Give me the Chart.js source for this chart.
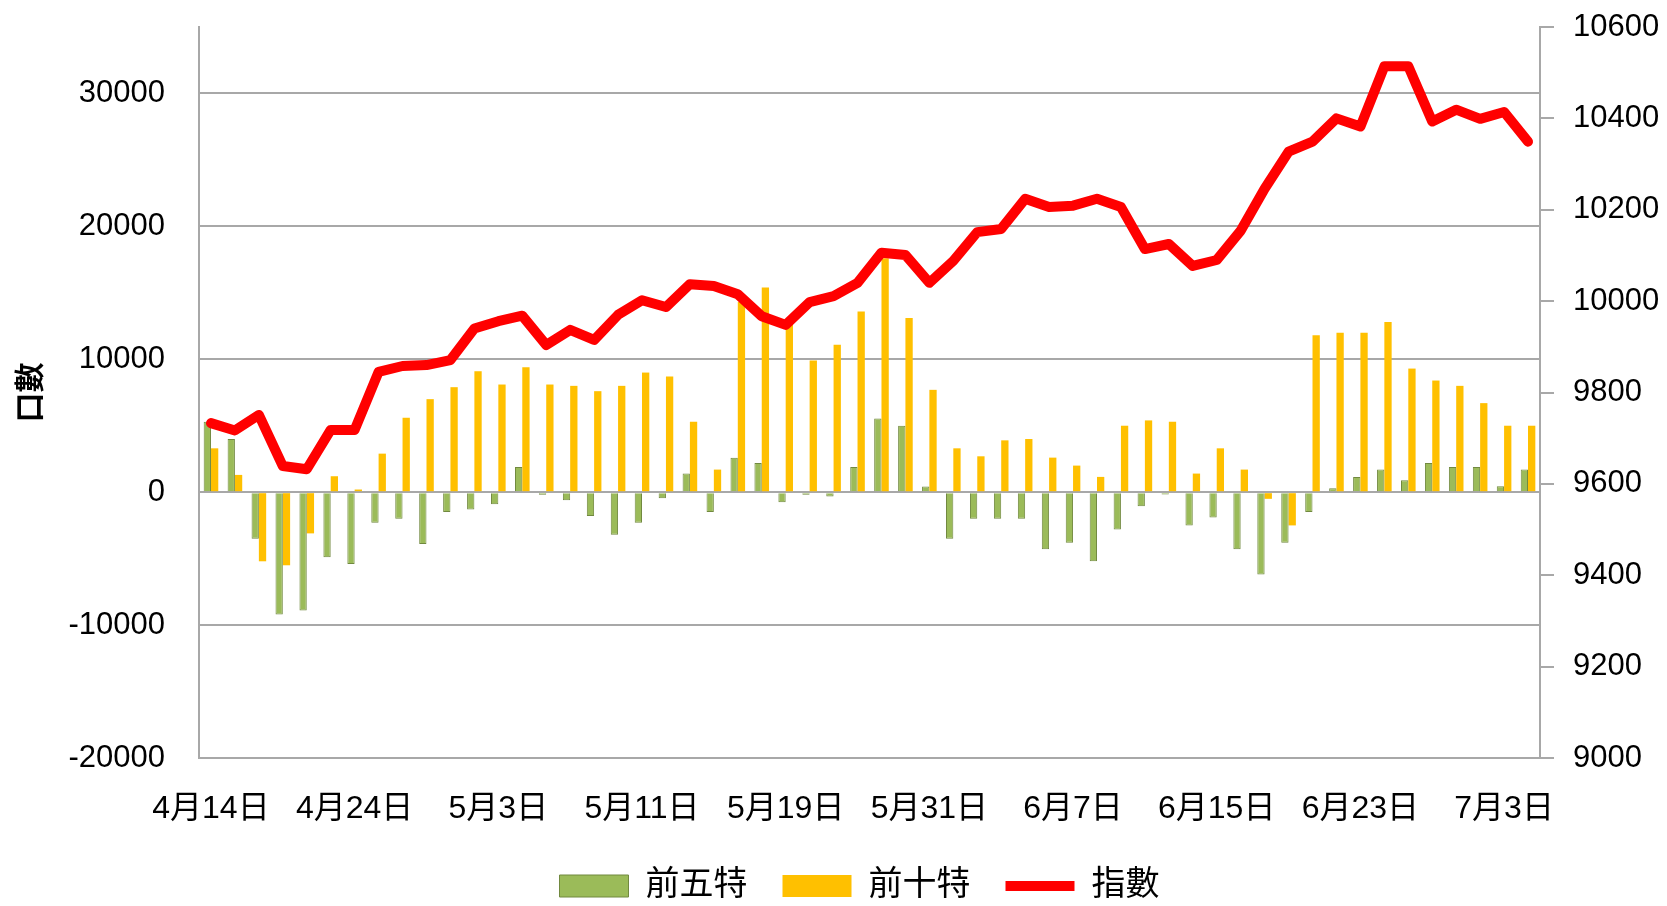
<!DOCTYPE html>
<html>
<head>
<meta charset="utf-8">
<script src="https://cdn.jsdelivr.net/npm/chart.js@4.4.1/dist/chart.umd.min.js"></script>
<style>
  html, body { margin: 0; padding: 0; background: #fff; }
</style>
</head>
<body>
<canvas id="myChart" width="1667" height="906"></canvas>
<script>
var dates = ['4月14日','4月17日','4月18日','4月19日','4月20日','4月21日','4月24日','4月25日','4月26日','4月27日',
  '4月28日','5月2日','5月3日','5月4日','5月5日','5月8日','5月9日','5月10日','5月11日','5月12日',
  '5月15日','5月16日','5月17日','5月18日','5月19日','5月22日','5月23日','5月24日','5月25日','5月26日',
  '5月31日','6月1日','6月2日','6月3日','6月5日','6月6日','6月7日','6月8日','6月9日','6月12日',
  '6月13日','6月14日','6月15日','6月16日','6月19日','6月20日','6月21日','6月22日','6月23日','6月26日',
  '6月27日','6月28日','6月29日','6月30日','7月3日','7月4日'];

// 前五特 (contracts)
var top5 = [5300, 4000, -3500, -9200, -8900, -4900, -5400, -2300, -2000, -3900,
  -1500, -1300, -900, 1900, -200, -600, -1800, -3200, -2300, -450,
  1400, -1500, 2600, 2200, -750, -200, -330, 1900, 5550, 5000,
  430, -3500, -2000, -2000, -2000, -4300, -3800, -5200, -2800, -1050,
  -180, -2500, -1900, -4300, -6200, -3800, -1500, 300, 1150, 1700,
  900, 2200, 1900, 1900, 450, 1700];

// 前十特 (contracts)
var top10 = [3300, 1300, -5200, -5500, -3100, 1200, 200, 2900, 5600, 7000,
  7900, 9100, 8100, 9400, 8100, 8000, 7600, 8000, 9000, 8700,
  5300, 1700, 14300, 15400, 13000, 9900, 11100, 13600, 17600, 13100,
  7700, 3300, 2700, 3900, 4000, 2600, 2000, 1150, 5000, 5400,
  5300, 1400, 3300, 1700, -500, -2500, 11800, 12000, 12000, 12800,
  9300, 8400, 8000, 6700, 5000, 5000];

// 指數 (right axis)
var indexLine = [9733, 9717, 9751, 9639, 9632, 9718, 9718, 9845, 9858, 9860,
  9871, 9940, 9956, 9968, 9904, 9937, 9915, 9970, 10002, 9987,
  10037, 10033, 10015, 9967, 9948, 9998, 10011, 10040, 10106, 10101,
  10040, 10088, 10151, 10158, 10224, 10206, 10209, 10224, 10206, 10114,
  10125, 10077, 10090, 10154, 10246, 10327, 10349, 10400, 10382, 10514,
  10514, 10393, 10419, 10399, 10414, 10349];

var leftTicks = [-20000, -10000, 0, 10000, 20000, 30000];
var rightTicks = [9000, 9200, 9400, 9600, 9800, 10000, 10200, 10400, 10600];
var labelEvery = 6;
var fontFam = "'Liberation Sans', 'Noto Sans CJK TC', sans-serif";
var gridGray = '#a8a8a8';

// nudge the bottom legend a little to the right, like the original
var legendShift = {
  id: 'legendShift',
  afterLayout: function(chart) {
    chart.legend.left += 26;
    chart.legend.right += 26;
  }
};

// fixed axis width, and don't let the tick padding push the plot down
function fixY(width) {
  return function(s) {
    s.width = width;
    s.paddingTop = 20;
    s.paddingBottom = 20;
  };
}

var ctx = document.getElementById('myChart').getContext('2d');
var chart = new Chart(ctx, {
  type: 'bar',
  data: {
    labels: dates,
    datasets: [{
      label: '前五特',
      data: top5,
      backgroundColor: '#9bbb59',
      borderColor: '#71893f',
      borderWidth: 1,
      barPercentage: 1,
      categoryPercentage: 0.61,
      pointStyle: 'rect',
      yAxisID: 'y',
      order: 1
    }, {
      label: '前十特',
      data: top10,
      backgroundColor: '#ffc000',
      borderColor: '#ffc000',
      borderWidth: 0,
      barPercentage: 1,
      categoryPercentage: 0.61,
      pointStyle: 'rect',
      yAxisID: 'y',
      order: 1
    }, {
      type: 'line',
      label: '指數',
      data: indexLine,
      borderColor: '#ff0000',
      backgroundColor: '#ff0000',
      borderWidth: 10,
      borderCapStyle: 'round',
      borderJoinStyle: 'round',
      tension: 0,
      pointRadius: 0,
      pointStyle: 'line',
      yAxisID: 'y2',
      order: 0
    }]
  },
  plugins: [legendShift],
  options: {
    responsive: false,
    animation: false,
    layout: { padding: { top: 27, bottom: -7, left: 0, right: 0 } },
    plugins: {
      tooltip: { enabled: false },
      legend: {
        position: 'bottom',
        labels: {
          usePointStyle: true,
          pointStyleWidth: 69,
          boxHeight: 22,
          padding: 35,
          color: '#000',
          font: { size: 34, family: fontFam },
          sort: function(a, b) { return a.datasetIndex - b.datasetIndex; }
        }
      }
    },
    scales: {
      x: {
        grid: { display: false },
        border: { display: false },
        ticks: {
          autoSkip: false,
          maxRotation: 0,
          padding: 24,
          color: '#000',
          font: { size: 32, family: fontFam },
          callback: function(v, i) { return i % labelEvery === 0 ? dates[i] : ''; }
        },
        afterFit: function(s) { s.height = 76; }
      },
      y: {
        position: 'left',
        min: -20000,
        max: 35000,
        afterBuildTicks: function(s) { s.ticks = leftTicks.map(function(v) { return { value: v }; }); },
        ticks: {
          padding: 34,
          color: '#000',
          font: { size: 31, family: fontFam },
          callback: function(v) { return String(v); }
        },
        grid: { color: gridGray, lineWidth: 2, drawTicks: false },
        border: { display: true, color: gridGray, width: 2 },
        title: {
          display: true,
          text: '口數',
          color: '#000',
          font: { size: 30, weight: 'bold', family: fontFam },
          padding: { top: 14, bottom: 0 }
        },
        afterFit: fixY(199)
      },
      y2: {
        position: 'right',
        min: 9000,
        max: 10600,
        afterBuildTicks: function(s) { s.ticks = rightTicks.map(function(v) { return { value: v }; }); },
        ticks: {
          padding: 19,
          color: '#000',
          font: { size: 31, family: fontFam },
          callback: function(v) { return String(v); }
        },
        grid: { drawOnChartArea: false, drawTicks: true, tickLength: 14, color: gridGray, lineWidth: 2 },
        border: { display: true, color: gridGray, width: 2 },
        afterFit: fixY(127)
      }
    }
  }
});
</script>
</body>
</html>
